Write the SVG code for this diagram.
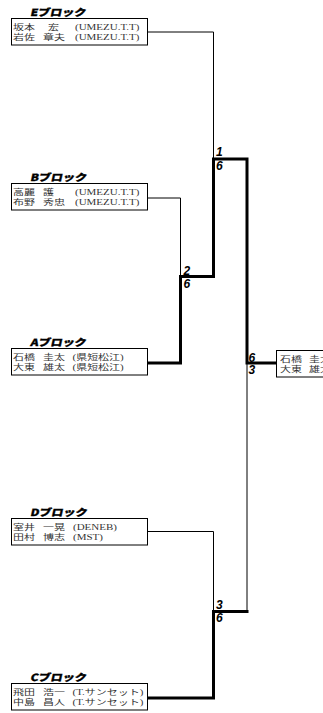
<svg xmlns="http://www.w3.org/2000/svg" width="323" height="713" viewBox="0 0 323 713">
<style>
.bg{fill:#fff}
.box{fill:#fff;stroke:#000;stroke-width:1}
.t{font-family:"Liberation Serif","Noto Sans CJK JP",serif;font-size:11px;fill:#333}
.ttl{font-family:"Noto Sans CJK JP",sans-serif;font-size:12px;font-weight:900;fill:#000;stroke:#000;stroke-width:0.4}
.sc{font-family:"Liberation Sans","DejaVu Sans",sans-serif;font-size:12px;font-weight:bold;font-style:italic;fill:#000}
.thin{fill:none;stroke:#000;stroke-width:1}
.thick{fill:none;stroke:#000;stroke-width:3;stroke-linejoin:miter;stroke-linecap:square}
</style>
<rect class="bg" x="0" y="0" width="323" height="713"/>
<g id="connectors">
<path class="thin" d="M148,32 H213.5 V159"/>
<path class="thin" d="M148,198 H180.5 V276"/>
<path class="thin" d="M148,531.5 H213.5 V611.5"/>
<path class="thin" d="M247,363 V611.5"/>
<path class="thick" d="M149,363 H180.5 V276.5 H213.5 V159 H247 V363 H275"/>
<path class="thick" d="M149,698 H213.5 V611.5 H247"/>
</g>
<g id="block-E">
<text class="ttl" transform="translate(30,16) scale(1,0.82) skewX(-10)">Eブロック</text>
<rect class="box" x="11.5" y="18.5" width="136" height="26.5"/>
<text class="t" transform="translate(0,29.5) scale(1,0.7)"><tspan x="13">坂本</tspan><tspan x="48">宏</tspan><tspan x="75">(UMEZU.T.T)</tspan></text>
<text class="t" transform="translate(0,39.5) scale(1,0.7)"><tspan x="13">岩佐</tspan><tspan x="43">章夫</tspan><tspan x="75">(UMEZU.T.T)</tspan></text>
</g>
<g id="block-B">
<text class="ttl" transform="translate(30,181) scale(1,0.82) skewX(-10)">Bブロック</text>
<rect class="box" x="11.5" y="183.5" width="136" height="26.5"/>
<text class="t" transform="translate(0,194.5) scale(1,0.7)"><tspan x="13">高麗</tspan><tspan x="43">護</tspan><tspan x="75">(UMEZU.T.T)</tspan></text>
<text class="t" transform="translate(0,204.5) scale(1,0.7)"><tspan x="13">布野</tspan><tspan x="43">秀忠</tspan><tspan x="75">(UMEZU.T.T)</tspan></text>
</g>
<g id="block-A">
<text class="ttl" transform="translate(30,346) scale(1,0.82) skewX(-10)">Aブロック</text>
<rect class="box" x="11.5" y="348.5" width="136" height="26.5"/>
<text class="t" transform="translate(0,359.5) scale(1,0.7)"><tspan x="13">石橋</tspan><tspan x="43">圭太</tspan><tspan x="72.5">(県短松江)</tspan></text>
<text class="t" transform="translate(0,369.5) scale(1,0.7)"><tspan x="13">大東</tspan><tspan x="43">雄太</tspan><tspan x="72.5">(県短松江)</tspan></text>
</g>
<g id="block-D">
<text class="ttl" transform="translate(30,516) scale(1,0.82) skewX(-10)">Dブロック</text>
<rect class="box" x="11.5" y="518.5" width="136" height="26.5"/>
<text class="t" transform="translate(0,529.5) scale(1,0.7)"><tspan x="13">室井</tspan><tspan x="43">一晃</tspan><tspan x="73">(DENEB)</tspan></text>
<text class="t" transform="translate(0,539.5) scale(1,0.7)"><tspan x="13">田村</tspan><tspan x="43">博志</tspan><tspan x="73">(MST)</tspan></text>
</g>
<g id="block-C">
<text class="ttl" transform="translate(30,681) scale(1,0.82) skewX(-10)">Cブロック</text>
<rect class="box" x="11.5" y="683.5" width="136" height="26.5"/>
<text class="t" transform="translate(0,694.5) scale(1,0.7)"><tspan x="13">飛田</tspan><tspan x="43">浩一</tspan><tspan x="72.5">(T.サンセット)</tspan></text>
<text class="t" transform="translate(0,704.5) scale(1,0.7)"><tspan x="13">中島</tspan><tspan x="43">昌人</tspan><tspan x="72.5">(T.サンセット)</tspan></text>
</g>
<g id="winner">
<rect class="box" x="276.5" y="350.5" width="80" height="26.5"/>
<text class="t" transform="translate(0,361.5) scale(1,0.7)"><tspan x="280">石橋</tspan><tspan x="309">圭太</tspan></text>
<text class="t" transform="translate(0,371.5) scale(1,0.7)"><tspan x="280">大東</tspan><tspan x="309">雄太</tspan></text>
</g>
<g id="scores">
<text class="sc" x="216" y="156">1</text>
<text class="sc" x="216" y="169.5">6</text>
<text class="sc" x="183.5" y="275">2</text>
<text class="sc" x="183.5" y="288">6</text>
<text class="sc" x="248.5" y="361.5">6</text>
<text class="sc" x="248.5" y="374">3</text>
<text class="sc" x="216" y="609">3</text>
<text class="sc" x="216" y="622">6</text>
</g>
</svg>
